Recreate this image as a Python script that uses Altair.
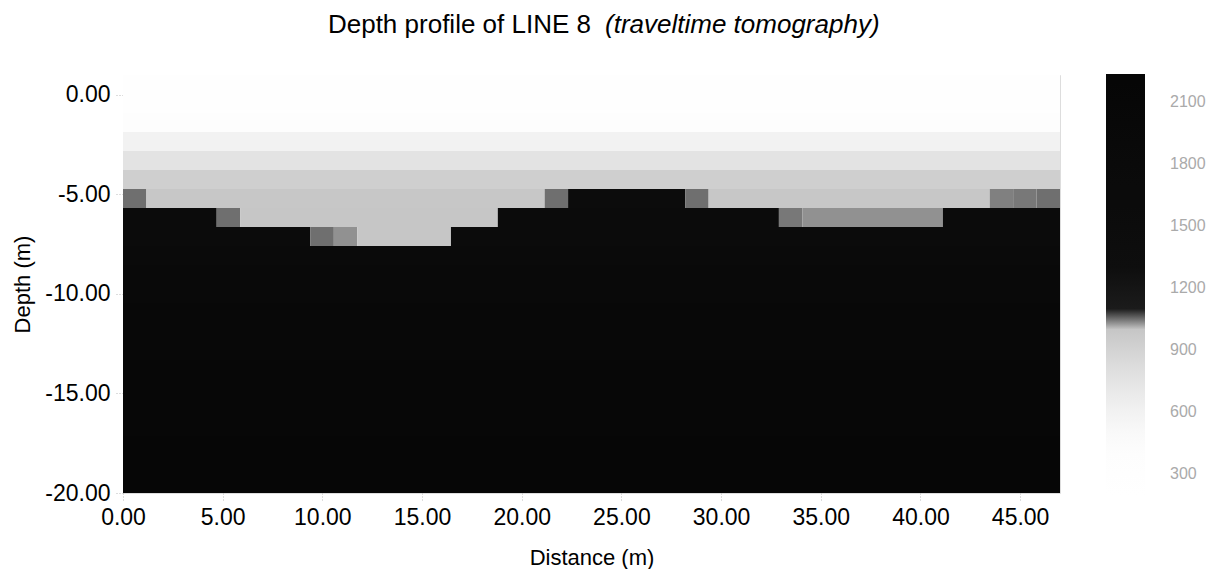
import altair as alt
import pandas as pd

# ---------------- text ----------------
title_main = "Depth profile of LINE 8"
title_italic = "(traveltime tomography)"
x_title = "Distance (m)"
y_title = "Depth (m)"

# ---------------- axes ----------------
x_ticks = [0, 5, 10, 15, 20, 25, 30, 35, 40, 45]
y_ticks = [0, -5, -10, -15, -20]
legend_ticks = [300, 600, 900, 1200, 1500, 1800, 2100]
x_extent = [0.0, 47.0]
y_extent = [-20.0, 1.0]
n_cols = 40
n_rows = 22

# ---------------- velocity model (m/s) ----------------
# first row (counted from the top) of the high-velocity refractor in each column
refractor_top_row = [7, 7, 7, 7, 8, 8, 8, 8, 9, 9,
                     9, 9, 9, 9, 8, 8, 7, 7, 7, 6,
                     6, 6, 6, 6, 7, 7, 7, 7, 8, 8,
                     8, 8, 8, 8, 8, 7, 7, 7, 7, 7]

# weathered-layer velocity per row (rows 0..8)
weathered_velocity = [300, 330, 420, 600, 760, 930, 995, 1000, 1000]

# refractor velocity per row
refractor_velocity = [1500, 1500, 1500, 1500, 1500, 1500, 1500, 1600, 1700, 1800, 1850,
                      1900, 1950, 2000, 2050, 2100, 2100, 2150, 2150, 2200, 2200, 2200]

# intermediate cells at the interface
transition_cols = [0, 4, 8, 9, 18, 24, 28, 29, 30, 31, 32, 33, 34, 37, 38, 39]
transition_rows = [6, 7, 8, 8, 6, 6, 7, 7, 7, 7, 7, 7, 7, 6, 6, 6]
transition_vel = [1070, 1070, 1070, 1062, 1070, 1070, 1068, 1062, 1062, 1062,
                  1062, 1062, 1062, 1066, 1068, 1070]

# grey-scale colour bar
color_domain = [200, 450, 650, 850, 1000, 1060, 1090, 1300, 2235]
color_range = ["#ffffff", "#fdfdfd", "#eeeeee", "#dadada", "#c6c6c6", "#999999",
               "#1c1c1c", "#0e0e0e", "#060606"]

# ---------------- build table (run-length merged along each row) ----------------
overrides = {(c, r): v for c, r, v in zip(transition_cols, transition_rows, transition_vel)}
dx = (x_extent[1] - x_extent[0]) / n_cols
dy = (y_extent[1] - y_extent[0]) / n_rows
recs = []
for r in range(n_rows):
    row_vals = []
    for c in range(n_cols):
        v = weathered_velocity[r] if r < refractor_top_row[c] else refractor_velocity[r]
        row_vals.append(overrides.get((c, r), v))
    start = 0
    for c in range(1, n_cols + 1):
        if c == n_cols or row_vals[c] != row_vals[start]:
            recs.append({
                "x0": x_extent[0] + start * dx,
                "x1": x_extent[0] + c * dx,
                "y0": y_extent[1] - r * dy,
                "y1": y_extent[1] - (r + 1) * dy,
                "v": row_vals[start],
            })
            start = c
df = pd.DataFrame(recs)

FONT = "Liberation Sans"
cscale = alt.Scale(domain=color_domain, range=color_range, type="linear", interpolate="rgb")

heat = alt.Chart(df).mark_rect().encode(
    x=alt.X("x0:Q", scale=alt.Scale(domain=x_extent, nice=False, zero=False),
            axis=alt.Axis(values=x_ticks, format=".2f", title=x_title,
                          labelFontSize=23, labelFont=FONT, labelColor="#000000",
                          labelFlush=False, labelOverlap=False, labelPadding=5,
                          tickSize=8, tickColor="#bbbbbb", tickDash=[1, 2],
                          domain=False, grid=False,
                          titleFont=FONT, titleFontSize=22, titleFontWeight="normal",
                          titleColor="#000000", titleY=71, titleBaseline="alphabetic")),
    x2="x1:Q",
    y=alt.Y("y0:Q", scale=alt.Scale(domain=y_extent, nice=False, zero=False),
            axis=alt.Axis(values=y_ticks, title=y_title,
                          labelExpr="replace(format(datum.value, '.2f'), '\u2212', '-')",
                          labelFontSize=23, labelFont=FONT, labelColor="#000000",
                          labelOverlap=False, labelPadding=5,
                          tickSize=8, tickColor="#bbbbbb", tickDash=[1, 2],
                          domain=False, grid=False,
                          titleFont=FONT, titleFontSize=22, titleFontWeight="normal",
                          titleColor="#000000", titleX=-101, titleY=209,
                          titleBaseline="middle")),
    y2="y1:Q",
    color=alt.Color("v:Q", scale=cscale,
                    legend=alt.Legend(type="gradient", orient="none", legendX=983,
                                      legendY=-1, direction="vertical",
                                      gradientLength=421, gradientThickness=39,
                                      values=legend_ticks, format="d",
                                      labelFontSize=16, labelFont=FONT,
                                      labelColor="#aaaaaa", labelOffset=25,
                                      labelOverlap=False, gradientStrokeWidth=0,
                                      title=None)),
)

t1 = alt.Chart(pd.DataFrame({"t": [title_main]})).mark_text(
    font=FONT, fontSize=26, align="right", baseline="alphabetic", color="#000000"
).encode(text="t:N", x=alt.value(468), y=alt.value(-42))

t2 = alt.Chart(pd.DataFrame({"t": [title_italic]})).mark_text(
    font=FONT, fontSize=26, fontStyle="italic", align="left", baseline="alphabetic",
    color="#000000"
).encode(text="t:N", x=alt.value(482), y=alt.value(-42))

chart = alt.layer(heat, t1, t2).properties(
    width=937, height=418,
    autosize=alt.AutoSizeParams(type="none"),
    padding={"left": 123, "top": 75, "right": 158, "bottom": 76},
).configure_view(
    stroke="#c8c8c8", strokeWidth=1, strokeDash=[6, 4]
).configure(background="#ffffff")

chart.save("out.html", embed_options={"renderer": "svg", "actions": False})
